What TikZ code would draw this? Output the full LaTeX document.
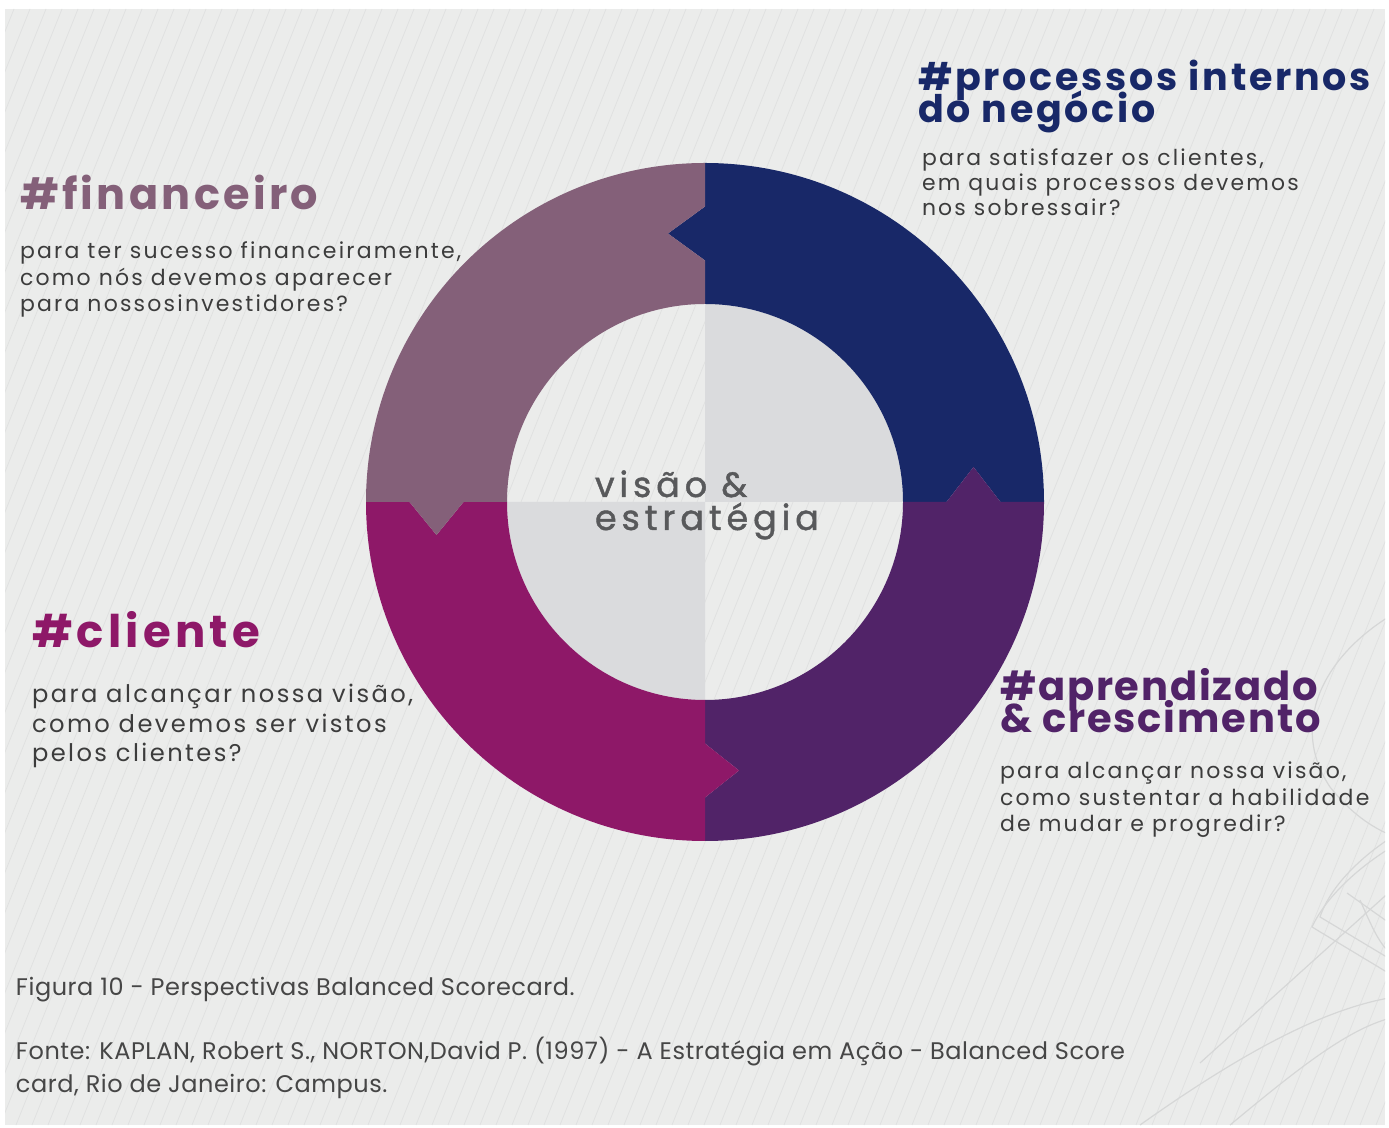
\documentclass[tikz,border=0pt]{standalone}
\usepackage{fontspec}
\newfontfamily\headfont{Poppins}
\newfontfamily\bodyfont{Poppins}
\newcommand\hfnt[2]{\headfont\bfseries\addfontfeatures{LetterSpace=#2}\fontsize{#1}{#1}\selectfont}
\newcommand\bfnt[2]{\bodyfont\addfontfeatures{LetterSpace=#2}\fontsize{#1}{#1}\selectfont}
\newcommand\cfnt[2]{\bodyfont\addfontfeatures{LetterSpace=#2,FakeBold=1.2}\fontsize{#1}{#1}\selectfont}
\definecolor{bgc}{RGB}{235,236,235}
\definecolor{stripec}{RGB}{223,224,224}
\definecolor{decoc}{RGB}{214,215,215}
\definecolor{innerc}{RGB}{218,219,221}
\definecolor{navyc}{RGB}{24,40,104}
\definecolor{purpc}{RGB}{81,35,104}
\definecolor{magc}{RGB}{142,24,104}
\definecolor{mauvec}{RGB}{132,96,121}
\definecolor{bodyc}{RGB}{60,60,60}
\definecolor{centc}{RGB}{88,89,91}
\definecolor{capc}{RGB}{70,70,70}
\tikzset{
  txt/.style={anchor=base west, inner sep=0pt, outer sep=0pt},
  stripe/.style={draw=stripec, line width=0.7pt},
  deco/.style={draw=decoc, line width=1.2pt},
}
\begin{document}
\begin{tikzpicture}[x=1pt,y=1pt]
\useasboundingbox (0,0) rectangle (1389,1127);
\fill[white] (0,0) rectangle (1389,1127);
\fill[bgc] (5,2) rectangle (1385,1118);
\begin{scope}
  \clip (5,2) rectangle (1385,1118);
  \foreach \i in {-40,...,90} \draw[stripe] (\i*16,2) -- ++(446,1116);
  % decorative faint curves, bottom right
  \draw[deco] (1395,514) .. controls (1320,470) and (1290,400) .. (1330,340) .. controls (1350,315) and (1370,300) .. (1395,290);
  \draw[deco] (1395,292) .. controls (1360,270) and (1330,240) .. (1320,210) -- (1395,165);
  \draw[deco] (1395,282) .. controls (1355,258) and (1325,228) .. (1312,200) -- (1395,150);
  \draw[deco] (1347,234) -- (1395,200);
  \draw[deco] (1200,64) -- (1395,240);
  \draw[deco] (1140,2) .. controls (1250,80) and (1330,120) .. (1395,130);
  \draw[deco] (1230,2) .. controls (1300,60) and (1350,100) .. (1395,110);
  \draw[deco] (1360,227) .. controls (1372,200) and (1380,180) .. (1395,170);
\end{scope}
% central disc quadrants
\begin{scope}[shift={(705,625)}]
  \fill[innerc] (0,0) -- (198,0) arc (0:90:198) -- cycle;
  \fill[innerc] (0,0) -- (-198,0) arc (180:270:198) -- cycle;
  % ring segments
  \fill[navyc] (339,0) arc (0:90:339) -- (0,295.5) -- (-37,268.5) -- (0,241.5) -- (0,198) arc (90:0:198) -- (241.5,0) -- (268.5,35) -- (295.5,0) -- cycle;
  \fill[purpc] (339,0) -- (295.5,0) -- (268.5,35) -- (241.5,0) -- (198,0) arc (0:-90:198) -- (0,-241.5) -- (34,-268.5) -- (0,-295.5) -- (0,-339) arc (-90:0:339) -- cycle;
  \fill[magc] (0,-339) -- (0,-295.5) -- (34,-268.5) -- (0,-241.5) -- (0,-198) arc (270:180:198) -- (-241.5,0) -- (-268.5,-33) -- (-295.5,0) -- (-339,0) arc (180:270:339) -- cycle;
  \fill[mauvec] (-339,0) -- (-295.5,0) -- (-268.5,-33) -- (-241.5,0) -- (-198,0) arc (180:90:198) -- (0,241.5) -- (-37,268.5) -- (0,295.5) -- (0,339) arc (90:180:339) -- cycle;
\end{scope}
% center text
\node[txt, text=centc, font=\cfnt{35}{14}] (c1) at (595,630) {visão \&};
\node[txt, text=centc, font=\cfnt{35}{14}] (c2) at (595,597) {estratégia};
% processos internos
\node[txt, text=navyc, font=\hfnt{38}{7.3}] (p1) at (918,1036) {\#processos internos};
\node[txt, text=navyc, font=\hfnt{38}{7.3}] (p2) at (918,1004) {do negócio};
\node[txt, text=bodyc, font=\bfnt{21.9}{10}] (p3) at (922,961) {para satisfazer os clientes,};
\node[txt, text=bodyc, font=\bfnt{21.9}{10}] (p4) at (922,936) {em quais processos devemos};
\node[txt, text=bodyc, font=\bfnt{21.9}{10}] (p5) at (922,911) {nos sobressair?};
% financeiro
\node[txt, text=mauvec, font=\hfnt{43}{7.7}] (f1) at (20,917) {\#financeiro};
\node[txt, text=bodyc, font=\bfnt{22}{10}] (f2) at (20,868) {para ter sucesso financeiramente,};
\node[txt, text=bodyc, font=\bfnt{22}{10}] (f3) at (20,841) {como nós devemos aparecer};
\node[txt, text=bodyc, font=\bfnt{22}{10}] (f4) at (20,815) {para nossosinvestidores?};
% cliente
\node[txt, text=magc, font=\hfnt{45}{9.4}] (k1) at (32,479) {\#cliente};
\node[txt, text=bodyc, font=\bfnt{24.2}{10}] (k2) at (32,424) {para alcançar nossa visão,};
\node[txt, text=bodyc, font=\bfnt{24.2}{10}] (k3) at (32,394) {como devemos ser vistos};
\node[txt, text=bodyc, font=\bfnt{24.2}{10}] (k4) at (32,365) {pelos clientes?};
% aprendizado
\node[txt, text=purpc, font=\hfnt{40}{4.6}] (a1) at (1000,426) {\#aprendizado};
\node[txt, text=purpc, font=\hfnt{40}{4.6}] (a2) at (1000,394) {\& crescimento};
\node[txt, text=bodyc, font=\bfnt{22}{10}] (a3) at (1000,348) {para alcançar nossa visão,};
\node[txt, text=bodyc, font=\bfnt{22}{10}] (a4) at (1000,321) {como sustentar a habilidade};
\node[txt, text=bodyc, font=\bfnt{22}{10}] (a5) at (1000,295) {de mudar e progredir?};
% caption
\node[txt, text=capc, font=\bfnt{24}{2.2}] (cap1) at (16,131) {Figura 10 - Perspectivas Balanced Scorecard.};
\node[txt, text=capc, font=\bfnt{24}{2.2}] (cap2) at (16,67) {Fonte: KAPLAN, Robert S., NORTON,David P. (1997) - A Estratégia em Ação - Balanced Score};
\node[txt, text=capc, font=\bfnt{24}{2.2}] (cap3) at (16,35) {card, Rio de Janeiro: Campus.};
\end{tikzpicture}
\end{document}
